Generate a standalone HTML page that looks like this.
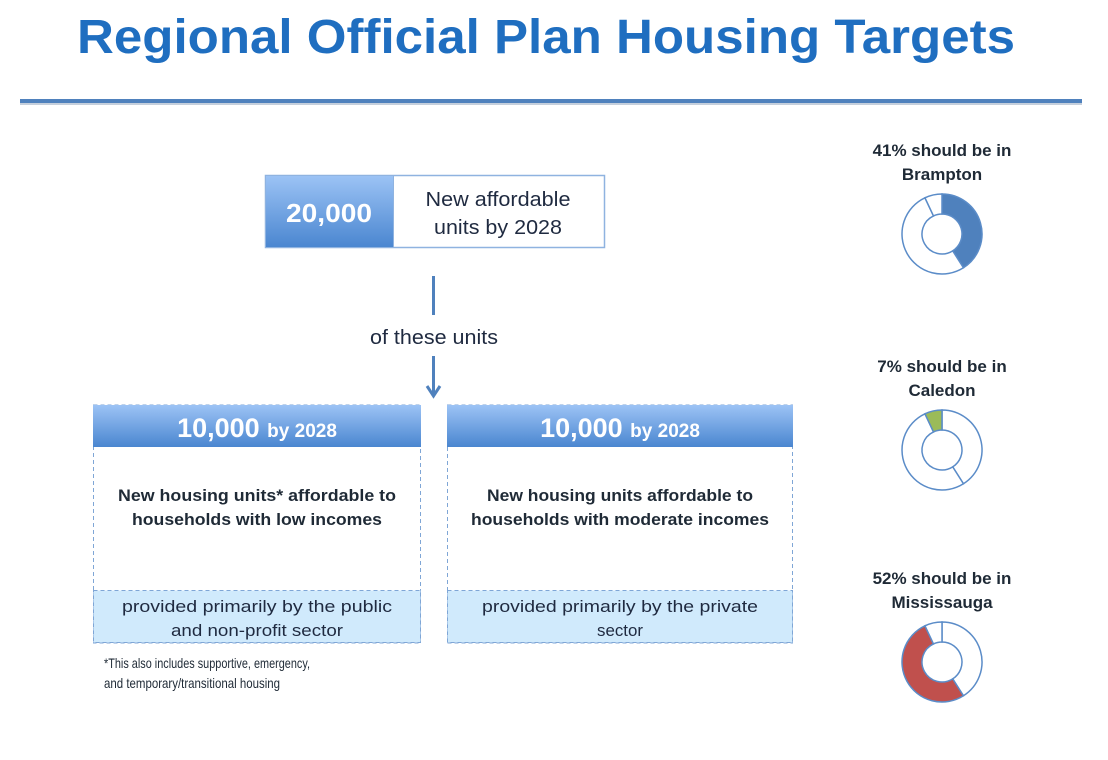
<!DOCTYPE html>
<html><head><meta charset="utf-8"><style>
html,body{margin:0;padding:0;background:#fff;}
svg{display:block;font-family:"Liberation Sans",sans-serif;}
</style></head><body>
<svg id="chart" width="1108" height="760" viewBox="0 0 1108 760" xmlns="http://www.w3.org/2000/svg">
<defs>
<linearGradient id="bg" x1="0" y1="0" x2="0" y2="1"><stop offset="0" stop-color="#9cc3f5"/><stop offset="1" stop-color="#4a86d0"/></linearGradient>
</defs>
<text x="546" y="53" text-anchor="middle" font-size="48" font-weight="bold" fill="#1f6ec0" textLength="938" lengthAdjust="spacingAndGlyphs">Regional Official Plan Housing Targets</text>
<rect x="20" y="102" width="1062" height="3" fill="#c5cfdc"/>
<rect x="20" y="99" width="1062" height="4" fill="#4f81bd"/>

<g>
<rect x="265.5" y="175.5" width="339" height="72" fill="#fff" stroke="#8fb3e0" stroke-width="1.5"/>
<rect x="265.5" y="175.5" width="128" height="72" fill="url(#bg)" stroke="#8fb3e0" stroke-width="1"/>
<text x="329" y="222" text-anchor="middle" font-size="26" font-weight="bold" fill="#fff" textLength="86" lengthAdjust="spacingAndGlyphs">20,000</text>
<text x="498" y="206" text-anchor="middle" font-size="20" fill="#1f2a40" textLength="145" lengthAdjust="spacingAndGlyphs">New affordable</text>
<text x="498" y="234" text-anchor="middle" font-size="20" fill="#1f2a40" textLength="128" lengthAdjust="spacingAndGlyphs">units by 2028</text>
</g>
<rect x="432" y="276" width="3" height="39" fill="#4f81bd"/>
<text x="434" y="344" text-anchor="middle" font-size="20" fill="#1f2a40" textLength="128" lengthAdjust="spacingAndGlyphs">of these units</text>
<g>
<rect x="432" y="356" width="3" height="38" fill="#4f81bd"/>
<path d="M427 386 L433.5 396 L440 386" fill="none" stroke="#4f81bd" stroke-width="3"/>
</g>

<g>
<rect x="93.5" y="405" width="327" height="238" fill="#fff" stroke="#7fa6d6" stroke-dasharray="4,3"/>
<rect x="93.5" y="590.5" width="327" height="52" fill="#d0eafc" stroke="#7fa6d6" stroke-dasharray="4,3"/>
<rect x="93" y="405" width="328" height="42" fill="url(#bg)"/>
<text x="257" y="437" text-anchor="middle" fill="#fff" font-weight="bold"><tspan font-size="27">10,000 </tspan><tspan font-size="19">by 2028</tspan></text>
<text x="257" y="501" text-anchor="middle" font-size="17" font-weight="bold" fill="#1f2a36" textLength="278" lengthAdjust="spacingAndGlyphs">New housing units* affordable to</text>
<text x="257" y="525" text-anchor="middle" font-size="17" font-weight="bold" fill="#1f2a36" textLength="250" lengthAdjust="spacingAndGlyphs">households with low incomes</text>
<text x="257" y="612" text-anchor="middle" font-size="17" fill="#1f2a40" textLength="270" lengthAdjust="spacingAndGlyphs">provided  primarily  by the public</text>
<text x="257" y="636" text-anchor="middle" font-size="17" fill="#1f2a40" textLength="172" lengthAdjust="spacingAndGlyphs">and non-profit sector</text>
</g>
<g>
<rect x="447.5" y="405" width="345" height="238" fill="#fff" stroke="#7fa6d6" stroke-dasharray="4,3"/>
<rect x="447.5" y="590.5" width="345" height="52" fill="#d0eafc" stroke="#7fa6d6" stroke-dasharray="4,3"/>
<rect x="447" y="405" width="346" height="42" fill="url(#bg)"/>
<text x="620" y="437" text-anchor="middle" fill="#fff" font-weight="bold"><tspan font-size="27">10,000 </tspan><tspan font-size="19"> by 2028</tspan></text>
<text x="620" y="501" text-anchor="middle" font-size="17" font-weight="bold" fill="#1f2a36" textLength="266" lengthAdjust="spacingAndGlyphs">New housing units affordable to</text>
<text x="620" y="525" text-anchor="middle" font-size="17" font-weight="bold" fill="#1f2a36" textLength="298" lengthAdjust="spacingAndGlyphs">households with moderate incomes</text>
<text x="620" y="612" text-anchor="middle" font-size="17" fill="#1f2a40" textLength="276" lengthAdjust="spacingAndGlyphs">provided  primarily  by the private</text>
<text x="620" y="636" text-anchor="middle" font-size="17" fill="#1f2a40" textLength="46" lengthAdjust="spacingAndGlyphs">sector</text>
</g>
<text x="104" y="668" font-size="14" fill="#1f2a36" textLength="206" lengthAdjust="spacingAndGlyphs">*This also includes supportive, emergency,</text>
<text x="104" y="688" font-size="14" fill="#1f2a36" textLength="176" lengthAdjust="spacingAndGlyphs">and temporary/transitional housing</text>
<g id="donuts"></g>
</svg>
<script>
const regions = ["Brampton", "Mississauga", "Caledon"];
const shares = [41, 52, 7];
const colors = ["#4f81bd", "#c0504d", "#9bbb59"];
const displayOrder = ["Brampton", "Caledon", "Mississauga"];

const NS = "http://www.w3.org/2000/svg";
const g = document.getElementById("donuts");
const cx = 942, R = 40, r = 20;
const centersY = [234, 450, 662];
const total = shares.reduce((a, b) => a + b, 0);
function pt(rad, frac) {
  const a = frac * 2 * Math.PI - Math.PI / 2;
  return [cx + rad * Math.cos(a), rad * Math.sin(a)];
}
displayOrder.forEach((name, di) => {
  const cy = centersY[di];
  const idx = regions.indexOf(name);
  const lbl1 = document.createElementNS(NS, "text");
  
  
  lbl1.setAttribute("x", cx); lbl1.setAttribute("y", cy - 78);
  lbl1.setAttribute("text-anchor", "middle"); lbl1.setAttribute("font-size", "17");
  lbl1.setAttribute("font-weight", "bold"); lbl1.setAttribute("fill", "#1f2a36");
  lbl1.textContent = shares[idx] + "% should be in";
  g.appendChild(lbl1);
  const lbl2 = document.createElementNS(NS, "text");
  
  
  lbl2.setAttribute("x", cx); lbl2.setAttribute("y", cy - 54);
  lbl2.setAttribute("text-anchor", "middle"); lbl2.setAttribute("font-size", "17");
  lbl2.setAttribute("font-weight", "bold"); lbl2.setAttribute("fill", "#1f2a36");
  lbl2.textContent = name;
  g.appendChild(lbl2);
  let acc = 0;
  regions.forEach((reg, i) => {
    const f0 = acc / total, f1 = (acc + shares[i]) / total;
    acc += shares[i];
    const [x0, y0] = pt(R, f0), [x1, y1] = pt(R, f1);
    const [x2, y2] = pt(r, f1), [x3, y3] = pt(r, f0);
    const large = (f1 - f0) > 0.5 ? 1 : 0;
    const d = `M${x0} ${cy + y0} A${R} ${R} 0 ${large} 1 ${x1} ${cy + y1} L${x2} ${cy + y2} A${r} ${r} 0 ${large} 0 ${x3} ${cy + y3} Z`;
    const p = document.createElementNS(NS, "path");
    
    
    p.setAttribute("d", d);
    p.setAttribute("fill", reg === name ? colors[i] : "#fff");
    p.setAttribute("stroke", "#5b8cc8");
    p.setAttribute("stroke-width", "1.5");
    g.appendChild(p);
  });
});
</script>
</body></html>
